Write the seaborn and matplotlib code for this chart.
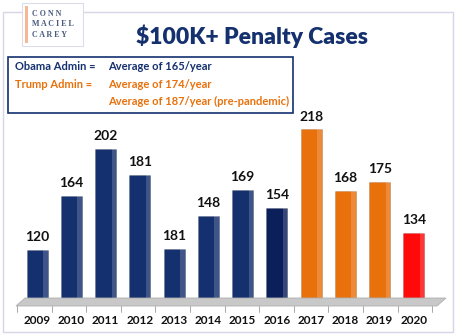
import matplotlib
matplotlib.use("Agg")
import matplotlib.pyplot as plt
import seaborn as sns
import pandas as pd
from matplotlib.patches import Polygon, Rectangle

years = ["2009", "2010", "2011", "2012", "2013", "2014", "2015", "2016",
         "2017", "2018", "2019", "2020"]
heights = [120, 164, 202, 181, 121, 148, 169, 154, 218, 168, 175, 134]
labels = ["120", "164", "202", "181", "181", "148", "169", "154",
          "218", "168", "175", "134"]
colors = ["#15306e"] * 7 + ["#0b1f5a"] + ["#e8710c"] * 3 + ["#ff0a0a"]

title = "$100K+ Penalty Cases"
box_rows = [("Obama Admin =", "Average of 165/year", "#14306e"),
            ("Trump Admin =", "Average of 174/year", "#e8710c"),
            ("", "Average of 187/year (pre-pandemic)", "#e8710c")]

sns.set_style("white")
plt.rcParams["font.family"] = ["Lato", "DejaVu Sans"]

W, H = 458, 336
fig = plt.figure(figsize=(W / 100, H / 100), dpi=100)

def fx(px):
    return px / W

def fy(py):
    return 1 - py / H

# outer frame
fig.patches.append(Rectangle((fx(3), fy(332)), fx(450), 320 / H,
                             transform=fig.transFigure, fill=False,
                             edgecolor="#d6d6e6", linewidth=1.0))

# floor
floor = Polygon([(fx(16), fy(306)), (fx(437), fy(306)), (fx(446), fy(298)), (fx(25), fy(298))],
                closed=True, transform=fig.transFigure, facecolor="#c8c8c8",
                edgecolor="#b0b0b0", linewidth=0.6, zorder=0)
fig.patches.append(floor)

ax = fig.add_axes([fx(20), 1 - 303 / H, fx(411), (303 - 95) / H])
df = pd.DataFrame({"year": years, "value": heights})
sns.barplot(data=df, x="year", y="value", hue="year", palette=colors,
            legend=False, width=0.62, ax=ax, saturation=1, zorder=3)
bars = list(ax.patches)
for p in bars:
    p.set_edgecolor((0, 0, 0, 0.15))
    p.set_linewidth(0.6)
    # side shading for a slight 3D look, derived from each bar's geometry
    x0, y0 = p.get_x(), p.get_y()
    w, h = p.get_width(), p.get_height()
    ax.add_patch(Rectangle((x0 + w * 0.78, y0), w * 0.22, h, facecolor=(1, 1, 1, 0.18),
                           edgecolor="none", zorder=4))
ax.set_ylim(77, 246)
ax.set_xlim(-0.5, 11.5)
for i, (h, lab) in enumerate(zip(heights, labels)):
    ax.annotate(lab, (i, h), xytext=(0, 5), textcoords="offset points",
                ha="center", va="bottom", fontsize=10, fontweight="bold",
                color="#111111")
ax.set_xlabel("")
ax.set_ylabel("")
ax.set_yticks([])
ax.set_xticks(range(len(years)))
ax.set_xticklabels(years, fontsize=8.5, fontweight="bold", color="#111111")
ax.tick_params(axis="x", length=0, pad=9)
for s in ax.spines.values():
    s.set_visible(False)
ax.patch.set_alpha(0)

# tick marks under floor
for i in range(len(years) + 1):
    xp = 17 + i * 34.6
    fig.add_artist(plt.Line2D([fx(xp), fx(xp)], [fy(306), fy(312)],
                              transform=fig.transFigure, color="#9a9a9a", linewidth=0.6))

# title
fig.text(fx(252), fy(36), title, ha="center", va="center", fontsize=16.5,
         fontweight="heavy", color="#14306e")

# logo
fig.patches.append(Rectangle((fx(22), fy(46)), fx(61), 43 / H, transform=fig.transFigure,
                             facecolor="white", edgecolor="#dcdce8", linewidth=0.8, zorder=5))
fig.patches.append(Rectangle((fx(25), fy(43)), fx(3), 37 / H, transform=fig.transFigure,
                             facecolor="#f5b894", edgecolor="none", zorder=6))
for k, w in enumerate(["C O N N", "M A C I E L", "C A R E Y"]):
    fig.text(fx(32), fy(14 + k * 10.5), w, ha="left", va="center", fontsize=5.8,
             fontweight="bold", family=["Liberation Serif", "DejaVu Serif"],
             color="#4a5a80", zorder=7)

# info box
fig.patches.append(Rectangle((fx(8), fy(113)), fx(285), 56 / H, transform=fig.transFigure,
                             facecolor="white", edgecolor="#14306e", linewidth=1.2, zorder=5))
for k, (a, b, c) in enumerate(box_rows):
    yy = fy(67 + k * 17)
    if a:
        fig.text(fx(15), yy, a, ha="left", va="center", fontsize=8, fontweight="bold",
                 color=c, zorder=6)
    fig.text(fx(108), yy, b, ha="left", va="center", fontsize=8, fontweight="bold",
             color=c, zorder=6)

fig.savefig("out.png", dpi=100)
